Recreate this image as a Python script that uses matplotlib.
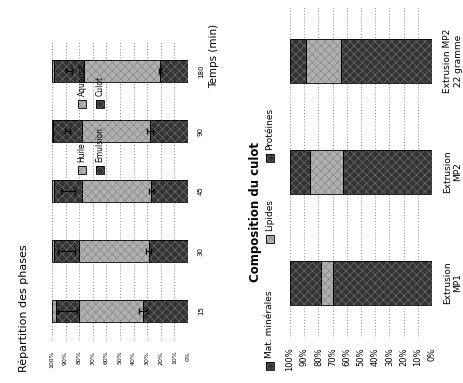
#program to plot the two rotated stacked bar charts (phases / culot)

import matplotlib.pyplot as plt
import matplotlib.patches as mpatches
import numpy as np

########################################################################
### data ###
########################################################################

#left chart: phase distribution (%) vs time
temps      = ['15', '30', '45', '90', '180']
culot      = [33, 29, 27, 28, 20.5]
aqueuse    = [47, 51, 51, 50, 56]
emulsion   = [17, 18.5, 20.5, 21, 22]
huile      = [3, 1.5, 1.5, 1, 1.5]
err_emul   = [7, 6, 5, 2, 2]
err_culot  = [3, 2, 2, 2, 1]

#right chart: pellet composition (%)
echant     = ['Extrusion\nMP1', 'Extrusion\nMP2', 'Extrusion MP2\n22 gramme']
proteines  = [70, 63, 64]
lipides    = [8, 23, 25]
mat_min    = [22, 14, 11]

pct_ticks  = np.arange(0, 101, 10)

########################################################################
### style ###
########################################################################

DARK  = '#333333'
LIGHT = '#b0b0b0'
plt.rcParams['hatch.linewidth'] = 0.5

fig = plt.figure(figsize=(4.64, 3.83), dpi=100)
W, H = 464., 383.


def px_axes(x0, y0, x1, y1):
    #axes from pixel box (top-left origin)
    return fig.add_axes([x0 / W, 1 - y1 / H, (x1 - x0) / W, (y1 - y0) / H])


def seg(ax, pos, width, left, color, hatch_col, height):
    ax.barh(pos, width, left=left, height=height, color=color,
            hatch='xxxx', edgecolor=hatch_col, linewidth=0, zorder=2)
    ax.barh(pos, width, left=left, height=height, fill=False,
            edgecolor='black', linewidth=0.6, zorder=3)


def setup(ax, tick_size, pad):
    ax.set_xlim(100, 0)
    ax.set_xticks(pct_ticks)
    ax.set_xticklabels(['%d%%' % t for t in pct_ticks], rotation=90,
                       fontsize=tick_size, va='top', ha='center')
    ax.tick_params(axis='x', length=0, pad=pad)
    ax.tick_params(axis='y', length=0)
    for s in ax.spines.values():
        s.set_visible(False)
    for t in pct_ticks:
        ax.axvline(t, color='#8a8a8a', lw=0.7, ls=(0, (1, 2)), zorder=0)


def legend_item(x, y, label, color, hatch_col, size, fs):
    #rotated legend: patch then text going upward
    fig.patches.append(mpatches.Rectangle(((x - size / 2) / W, 1 - (y + size / 2) / H),
                                          size / W, size / H, transform=fig.transFigure,
                                          facecolor=color, hatch='xxxx', edgecolor=hatch_col,
                                          linewidth=0))
    fig.patches.append(mpatches.Rectangle(((x - size / 2) / W, 1 - (y + size / 2) / H),
                                          size / W, size / H, transform=fig.transFigure,
                                          fill=False, edgecolor='black', linewidth=0.6))
    fig.text(x / W, 1 - (y - size / 2 - 4) / H, label, rotation=90,
             ha='center', va='bottom', fontsize=fs)


########################################################################
### left chart ###
########################################################################

ax1 = px_axes(52, 41, 188, 341)
pos = np.arange(len(temps))
c = np.array(culot)
a = np.array(aqueuse)
e = np.array(emulsion)
h = np.array(huile)
bh = 0.38
seg(ax1, pos, c, 0, DARK, '#6c6c6c', bh)
seg(ax1, pos, a, c, LIGHT, '#888888', bh)
seg(ax1, pos, e, c + a, DARK, '#6c6c6c', bh)
seg(ax1, pos, h, c + a + e, LIGHT, '#888888', bh)
ax1.errorbar(c + a + e / 2, pos, xerr=err_emul, fmt='none', ecolor='black',
             elinewidth=0.8, capsize=2, zorder=4)
ax1.errorbar(c, pos, xerr=err_culot, fmt='none', ecolor='black',
             elinewidth=0.8, capsize=2, zorder=4)
ax1.set_ylim(-0.5, len(temps) - 0.5)
setup(ax1, 4.5, 7)
ax1.yaxis.tick_right()
ax1.set_yticks(pos)
ax1.set_yticklabels(temps, rotation=90, fontsize=5, ha='left', va='center')
ax1.tick_params(axis='y', pad=7)

fig.text(214 / W, 1 - 56 / H, 'Temps (min)', rotation=90, ha='center',
         va='center', fontsize=7.5)
fig.text(24 / W, 1 - 372 / H, 'Répartition des phases', rotation=90,
         ha='center', va='bottom', fontsize=8)

legend_item(82, 170, 'Huile', LIGHT, '#888888', 8, 5.5)
legend_item(100, 170, 'Emulsion', DARK, '#6c6c6c', 8, 5.5)
legend_item(82, 104, 'Aqueuse', LIGHT, '#888888', 8, 5.5)
legend_item(100, 104, 'Culot', DARK, '#6c6c6c', 8, 5.5)

########################################################################
### right chart ###
########################################################################

ax2 = px_axes(290, 6, 432, 338)
pos2 = np.arange(len(echant))
p = np.array(proteines)
l = np.array(lipides)
m = np.array(mat_min)
bh2 = 0.4
seg(ax2, pos2, p, 0, DARK, '#6c6c6c', bh2)
seg(ax2, pos2, l, p, LIGHT, '#888888', bh2)
seg(ax2, pos2, m, p + l, DARK, '#6c6c6c', bh2)
ax2.set_ylim(-0.5, len(echant) - 0.5)
setup(ax2, 6, 7)
ax2.yaxis.tick_right()
ax2.set_yticks(pos2)
ax2.set_yticklabels(echant, rotation=90, fontsize=6.5, ha='left',
                    va='center', multialignment='center')
ax2.tick_params(axis='y', pad=8)

fig.text(256 / W, 1 - 212 / H, 'Composition du culot', rotation=90,
         ha='center', va='center', fontsize=8.5, fontweight='bold')

legend_item(270, 366, 'Mat. minérales', DARK, '#6c6c6c', 8, 6.5)
legend_item(270, 239, 'Lipides', LIGHT, '#888888', 8, 6.5)
legend_item(270, 158, 'Protéines', DARK, '#6c6c6c', 8, 6.5)

fig.savefig('out.png', dpi=100)
